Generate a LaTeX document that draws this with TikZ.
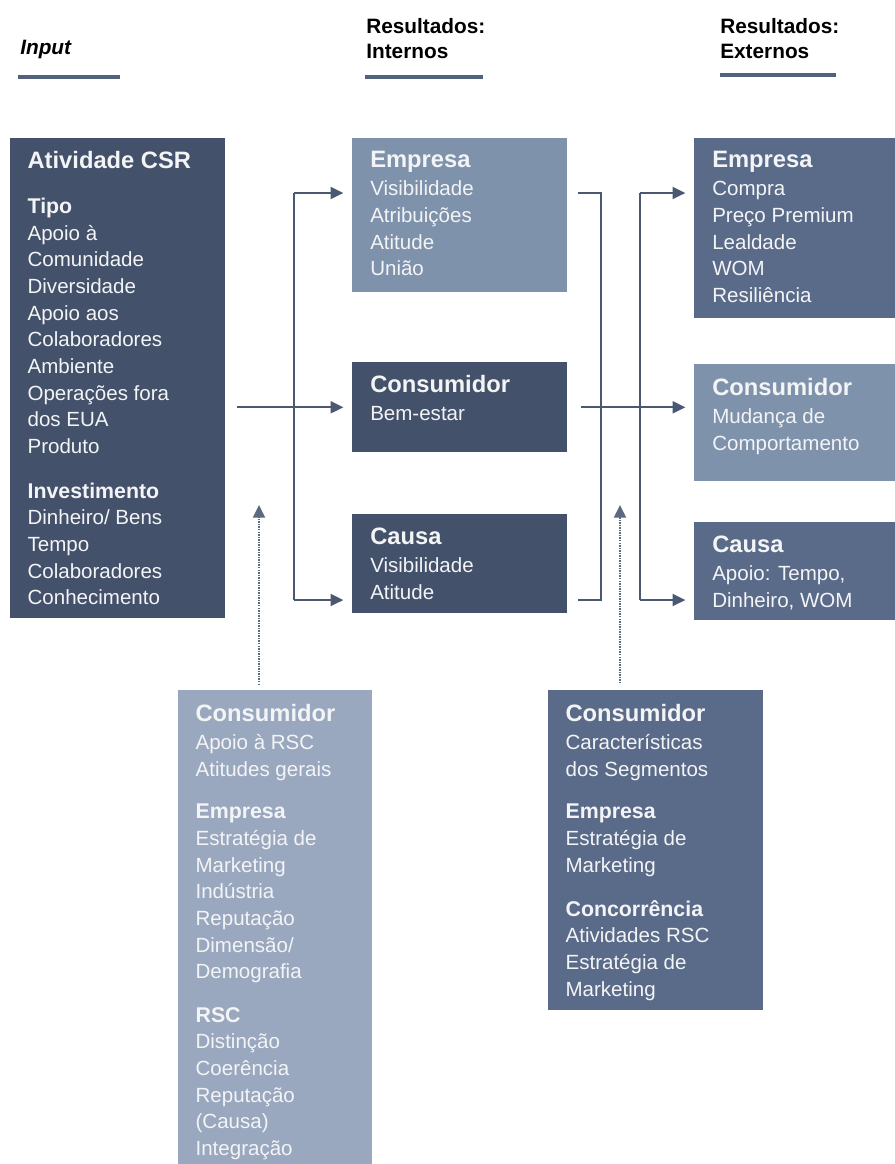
\documentclass[tikz,border=0pt]{standalone}
\usepackage{fontspec}
\setmainfont{Liberation Sans}
\usetikzlibrary{positioning,arrows.meta}

\definecolor{boxdark}{HTML}{44516A}
\definecolor{boxmid}{HTML}{5A6B89}
\definecolor{boxlight}{HTML}{7F92AB}
\definecolor{boxpale}{HTML}{9AA8BF}
\definecolor{linkcol}{HTML}{4A5872}
\definecolor{rulecol}{HTML}{52617C}
\definecolor{boxtxt}{HTML}{F3F4F6}

\newcommand{\hd}[1]{{\fontsize{17.8}{20}\selectfont\bfseries #1}}
\newcommand{\sh}[1]{{\fontsize{16}{20}\selectfont\bfseries #1}}

\tikzset{
  panel/.style={inner sep=0pt, anchor=north west},
  boxtext/.style={inner sep=0pt, align=left, text=boxtxt,
    font=\fontsize{15.4}{20}\selectfont},
  header/.style={inner sep=0pt, anchor=north west, align=left,
    font=\fontsize{15.6}{18.75}\selectfont\bfseries},
  rulebar/.style={draw=rulecol, line width=2.4pt},
  link/.style={draw=linkcol, line width=1.4pt},
  flow/.style={link, -{Triangle[length=9.5pt,width=9pt]}, shorten >=6.5pt},
  dotflow/.style={draw=linkcol!90, line width=1.5pt, dash pattern=on 1.1pt off 0.8pt,
    -{Triangle[length=9.5pt,width=9pt]}}
}

\begin{document}
\begin{tikzpicture}[x=0.75pt,y=-0.75pt]
\useasboundingbox (0,0) rectangle (895,1164);

% headers
\node[header] (hInput) at (20,40) {\itshape Input};
\node[header] (hInt) at (366,18) {Resultados:\\Internos};
\node[header] (hExt) at (720,18) {Resultados:\\Externos};
\draw[rulebar] (18,77) -- (120,77);
\draw[rulebar] (365,77) -- (483,77);
\draw[rulebar] (720,75) -- (836,75);

% input
\node[panel, fill=boxdark, minimum width=161.25pt, minimum height=360pt] (csr) at (10,138) {};
\node[boxtext, below right=10pt and 13pt of csr.north west] (csrT) {%
  \hd{Atividade CSR}\\[13.5pt]
  \sh{Tipo}\\
  Apoio à\\ Comunidade\\ Diversidade\\ Apoio aos\\ Colaboradores\\ Ambiente\\
  Operações fora\\ dos EUA\\ Produto\\[13.5pt]
  \sh{Investimento}\\
  Dinheiro/ Bens\\ Tempo\\ Colaboradores\\ Conhecimento};

% internal results
\node[panel, fill=boxlight, minimum width=161.25pt, minimum height=115.5pt] (empI) at (352,138) {};
\node[boxtext, below right=10pt and 13.5pt of empI.north west] (empIT) {%
  \hd{Empresa}\\[1pt] Visibilidade\\ Atribuições\\ Atitude\\ União};

\node[panel, fill=boxdark, minimum width=161.25pt, minimum height=67.5pt] (consI) at (352,362) {};
\node[boxtext, below right=10pt and 13.5pt of consI.north west] (consIT) {%
  \hd{Consumidor}\\[1pt] Bem-estar};

\node[panel, fill=boxdark, minimum width=161.25pt, minimum height=74.25pt] (causaI) at (352,514) {};
\node[boxtext, below right=10.5pt and 13.5pt of causaI.north west] (causaIT) {%
  \hd{Causa}\\[1pt] Visibilidade\\ Atitude};

% external results
\node[panel, fill=boxmid, minimum width=150.75pt, minimum height=135pt] (empE) at (694,138) {};
\node[boxtext, below right=10pt and 13.5pt of empE.north west] (empET) {%
  \hd{Empresa}\\[1pt] Compra\\ Preço Premium\\ Lealdade\\ WOM\\ Resiliência};

\node[panel, fill=boxlight, minimum width=150.75pt, minimum height=87.75pt] (consE) at (694,364) {};
\node[boxtext, below right=10.5pt and 13.5pt of consE.north west] (consET) {%
  \hd{Consumidor}\\[1pt] Mudança de\\ Comportamento};

\node[panel, fill=boxmid, minimum width=150.75pt, minimum height=73.5pt] (causaE) at (694,522) {};
\node[boxtext, below right=10.5pt and 13.5pt of causaE.north west] (causaET) {%
  \hd{Causa}\\[1pt] Apoio: Tempo,\\ Dinheiro, WOM};

% moderators
\node[panel, fill=boxpale, minimum width=145.5pt, minimum height=355.5pt] (ctxL) at (178,690) {};
\node[boxtext, below right=10.5pt and 13pt of ctxL.north west] (ctxLT) {%
  \hd{Consumidor}\\[1pt] Apoio à RSC\\ Atitudes gerais\\[12pt]
  \sh{Empresa}\\ Estratégia de\\ Marketing\\ Indústria\\ Reputação\\
  Dimensão/\\ Demografia\\[12.5pt]
  \sh{RSC}\\ Distinção\\ Coerência\\ Reputação\\ (Causa)\\ Integração};

\node[panel, fill=boxmid, minimum width=161.25pt, minimum height=240pt] (ctxR) at (548,690) {};
\node[boxtext, below right=10.5pt and 13pt of ctxR.north west] (ctxRT) {%
  \hd{Consumidor}\\[1pt] Características\\ dos Segmentos\\[12pt]
  \sh{Empresa}\\ Estratégia de\\ Marketing\\[13pt]
  \sh{Concorrência}\\ Atividades RSC\\ Estratégia de\\ Marketing};

% connectors
\coordinate (inTop) at (294,193);
\coordinate (inBot) at (294,600);
\coordinate (brTop) at (601,193);
\coordinate (brBot) at (601,600);
\coordinate (exTop) at (640,193);
\coordinate (exBot) at (640,600);
\coordinate (dotL) at (259,505);
\coordinate (dotR) at (620,505);

\draw[flow] ([xshift=8.25pt]csr.east |- consI.west) -- (consI.west);
\draw[link] (inTop) -- (inBot);
\draw[flow] (inTop) -- (inTop -| empI.west);
\draw[flow] (inBot) -- (inBot -| causaI.west);

\draw[link] ([xshift=7.5pt]inTop -| empI.east) -- (brTop) -- (brBot) -- ([xshift=7.5pt]inBot -| causaI.east);
\draw[flow] ([xshift=9.75pt]consI.east) -- (consI.east -| consE.west);
\draw[link] (exTop) -- (exBot);
\draw[flow] (exTop) -- (exTop -| empE.west);
\draw[flow] (exBot) -- (exBot -| causaE.west);

\draw[dotflow] ([yshift=3.75pt]dotL |- ctxL.north) -- (dotL);
\draw[dotflow] ([yshift=5pt]dotR |- ctxR.north) -- (dotR);
\end{tikzpicture}
\end{document}
